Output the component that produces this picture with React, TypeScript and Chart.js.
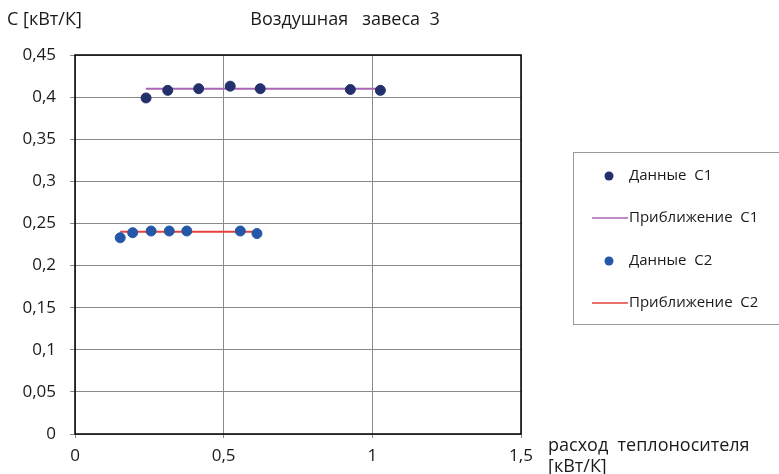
import React, { useEffect, useRef } from "react";
import { Chart, registerables } from "chart.js";

Chart.register(...registerables);

const chartTitle = "Воздушная   завеса  3";
const yAxisTitle = "C [кВт/К]";
const xAxisTitle1 = "расход  теплоносителя";
const xAxisTitle2 = "[кВт/К]";

const xC1 = [0.239, 0.312, 0.416, 0.522, 0.623, 0.926, 1.027];
const yC1 = [0.399, 0.408, 0.41, 0.413, 0.41, 0.409, 0.408];
const fitC1X = [0.238, 1.027];
const fitC1Y = [0.41, 0.41];

const xC2 = [0.152, 0.194, 0.256, 0.317, 0.376, 0.556, 0.612];
const yC2 = [0.233, 0.239, 0.241, 0.241, 0.241, 0.241, 0.238];
const fitC2X = [0.152, 0.616];
const fitC2Y = [0.24, 0.24];

const legendLabels = ["Данные  С1", "Приближение  С1", "Данные  С2", "Приближение  С2"];

const FONT = "'Open Sans', 'Noto Sans', sans-serif";
const TEXT = "#1a1a1a";
const C1_POINT = "#24306b";
const C1_LINE = "#a867b2";
const C2_POINT = "#2457a8";
const C2_LINE = "#e8403c";

const toPts = (xs: number[], ys: number[]) => xs.map((x, i) => ({ x, y: ys[i] }));
const fmt = (v: number) => String(parseFloat(Number(v).toFixed(2))).replace(".", ",");

const decorPlugin = {
  id: "decor",
  afterDraw(chart: any) {
    const ctx = chart.ctx;
    const a = chart.chartArea;
    ctx.save();
    ctx.strokeStyle = "#000";
    ctx.lineWidth = 1.5;
    ctx.strokeRect(a.left, a.top, a.right - a.left, a.bottom - a.top);
    ctx.fillStyle = TEXT;
    ctx.textBaseline = "middle";
    ctx.font = `18px ${FONT}`;
    ctx.textAlign = "center";
    ctx.fillText(chartTitle, 345, 20);
    ctx.textAlign = "left";
    ctx.fillText(yAxisTitle, 7, 20);
    ctx.fillText(xAxisTitle1, 548, 446);
    ctx.fillText(xAxisTitle2, 548, 467);
    ctx.strokeStyle = "#9a9a9a";
    ctx.lineWidth = 1;
    ctx.strokeRect(573.5, 152.5, 210, 172);
    const ys = [176, 218, 261, 303];
    const colors = [C1_POINT, C1_LINE, C2_POINT, C2_LINE];
    ctx.font = `15px ${FONT}`;
    legendLabels.forEach((lab, i) => {
      const y = ys[i];
      if (i % 2 === 0) {
        ctx.fillStyle = colors[i];
        ctx.beginPath();
        ctx.arc(609, y, 4.5, 0, Math.PI * 2);
        ctx.fill();
      } else {
        ctx.strokeStyle = colors[i];
        ctx.lineWidth = 1.5;
        ctx.beginPath();
        ctx.moveTo(592, y);
        ctx.lineTo(628, y);
        ctx.stroke();
      }
      ctx.fillStyle = TEXT;
      ctx.fillText(lab, 629, y);
    });
    ctx.restore();
  },
};

export default function App() {
  const ref = useRef<HTMLCanvasElement | null>(null);
  useEffect(() => {
    if (!ref.current) return;
    const chart = new Chart(ref.current, {
      type: "scatter",
      data: {
        datasets: [
          {
            label: legendLabels[0],
            data: toPts(xC1, yC1),
            backgroundColor: C1_POINT,
            borderColor: C1_POINT,
            pointRadius: 5,
            showLine: false,
            order: 0,
          },
          {
            label: legendLabels[1],
            data: toPts(fitC1X, fitC1Y),
            borderColor: C1_LINE,
            borderWidth: 2,
            pointRadius: 0,
            showLine: true,
            order: 2,
          },
          {
            label: legendLabels[2],
            data: toPts(xC2, yC2),
            backgroundColor: C2_POINT,
            borderColor: C2_POINT,
            pointRadius: 5,
            showLine: false,
            order: 0,
          },
          {
            label: legendLabels[3],
            data: toPts(fitC2X, fitC2Y),
            borderColor: C2_LINE,
            borderWidth: 2,
            pointRadius: 0,
            showLine: true,
            order: 2,
          },
        ],
      },
      options: {
        responsive: false,
        animation: false,
        devicePixelRatio: 1,
        layout: { padding: { left: 0, top: 55, right: 258, bottom: 0 } },
        plugins: {
          legend: { display: false },
          tooltip: { enabled: false },
          title: { display: false },
        },
        scales: {
          x: {
            type: "linear",
            min: 0,
            max: 1.5,
            ticks: {
              stepSize: 0.5,
              callback: (v: any) => fmt(v),
              color: TEXT,
              font: { family: FONT, size: 17 },
              padding: 8,
              maxRotation: 0,
            },
            grid: { color: "#8a8a8a", lineWidth: 1, tickLength: 4 },
            border: { display: false },
            afterFit: (s: any) => {
              s.height = 40;
            },
          },
          y: {
            type: "linear",
            min: 0,
            max: 0.45,
            ticks: {
              stepSize: 0.05,
              callback: (v: any) => fmt(v),
              color: TEXT,
              font: { family: FONT, size: 17 },
              padding: 14,
            },
            grid: { color: "#8a8a8a", lineWidth: 1, tickLength: 5 },
            border: { display: false },
            afterFit: (s: any) => {
              s.width = 75;
            },
          },
        },
      },
      plugins: [decorPlugin],
    } as any);
    return () => chart.destroy();
  }, []);
  return (
    <div style={{ position: "absolute", left: 0, top: 0, width: 779, height: 474, background: "#fff" }}>
      <canvas ref={ref} width={779} height={474} style={{ display: "block" }} />
    </div>
  );
}
